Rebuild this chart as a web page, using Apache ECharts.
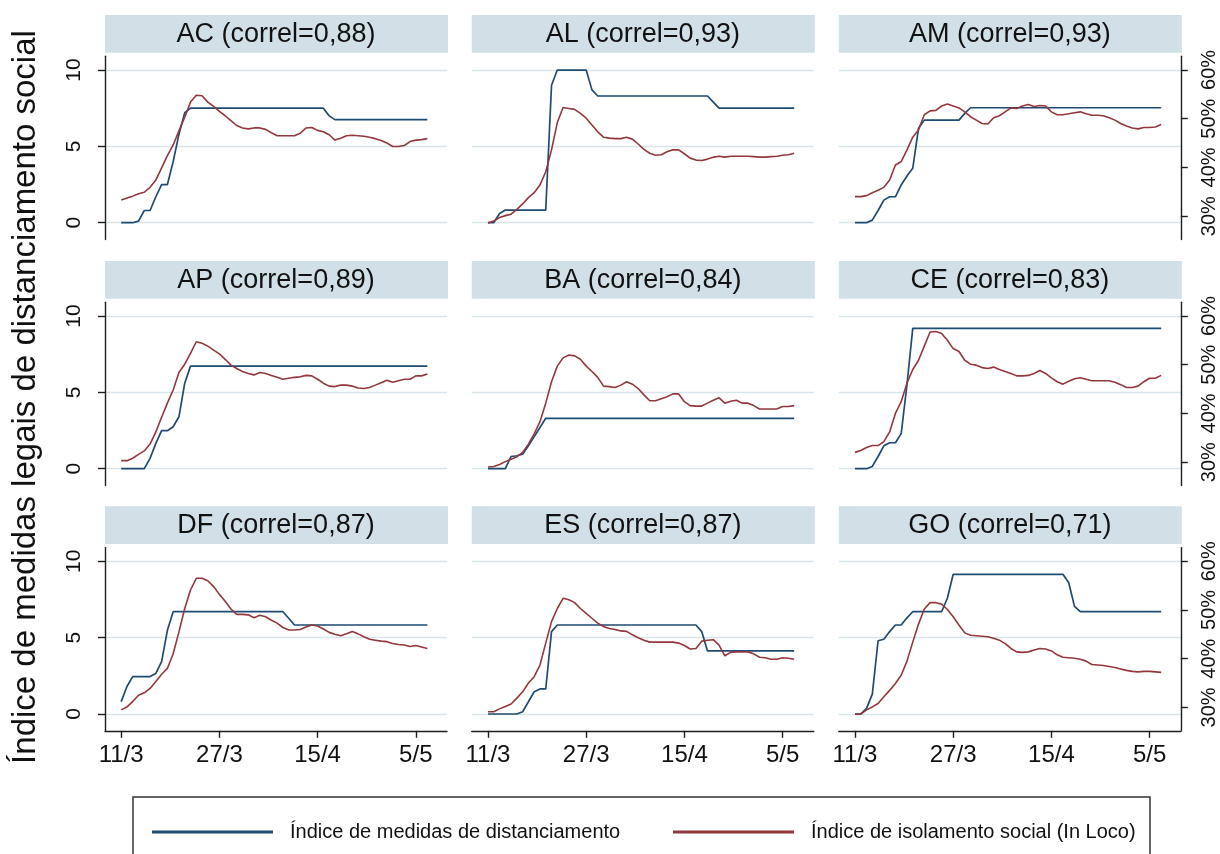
<!DOCTYPE html>
<html><head><meta charset="utf-8">
<script src="https://cdn.jsdelivr.net/npm/echarts@6/dist/echarts.min.js"></script>
<style>html,body{margin:0;padding:0;background:#fff}#c{width:1220px;height:854px}</style>
</head><body><div id="c"></div>
<script>
// ---------- data ----------
const states = ['AC','AL','AM','AP','BA','CE','DF','ES','GO'];
const correl = ['0,88','0,93','0,93','0,89','0,84','0,83','0,87','0,87','0,71'];
const xTickIdx = [0, 17, 34, 51];
const xTickLabels = ['11/3', '27/3', '15/4', '5/5'];
const leftTicks = [0, 5, 10];
const rightTicks = [30, 40, 50, 60];
const seriesNames = ['Índice de medidas de distanciamento', 'Índice de isolamento social (In Loco)'];
const yTitle = 'Índice de medidas legais de distanciamento social';

// Índice de medidas de distanciamento (0-10), one value per day
const blueAC = [0,0,0,0.1,0.8,0.8,1.7,2.5,2.5,4.0,5.8,7.2,7.5,7.5,7.5,7.5,7.5,7.5,7.5,7.5,7.5,7.5,7.5,7.5,7.5,7.5,7.5,7.5,7.5,7.5,7.5,7.5,7.5,7.5,7.5,7.5,7.0,6.75,6.75,6.75,6.75,6.75,6.75,6.75,6.75,6.75,6.75,6.75,6.75,6.75,6.75,6.75,6.75,6.75];
const blueAL = [0,0,0.6,0.83,0.83,0.83,0.83,0.83,0.83,0.83,0.83,9.0,10,10,10,10,10,10,8.7,8.3,8.3,8.3,8.3,8.3,8.3,8.3,8.3,8.3,8.3,8.3,8.3,8.3,8.3,8.3,8.3,8.3,8.3,8.3,8.3,7.9,7.5,7.5,7.5,7.5,7.5,7.5,7.5,7.5,7.5,7.5,7.5,7.5,7.5,7.5];
const blueAM = [0,0,0,0.17,0.8,1.48,1.7,1.7,2.47,3.06,3.56,6.18,6.72,6.72,6.72,6.72,6.72,6.72,6.72,7.16,7.53,7.53,7.53,7.53,7.53,7.53,7.53,7.53,7.53,7.53,7.53,7.53,7.53,7.53,7.53,7.53,7.53,7.53,7.53,7.53,7.53,7.53,7.53,7.53,7.53,7.53,7.53,7.53,7.53,7.53,7.53,7.53,7.53,7.53];
const blueAP = [0,0,0,0,0,0.68,1.66,2.49,2.49,2.75,3.4,5.6,6.72,6.72,6.72,6.72,6.72,6.72,6.72,6.72,6.72,6.72,6.72,6.72,6.72,6.72,6.72,6.72,6.72,6.72,6.72,6.72,6.72,6.72,6.72,6.72,6.72,6.72,6.72,6.72,6.72,6.72,6.72,6.72,6.72,6.72,6.72,6.72,6.72,6.72,6.72,6.72,6.72,6.72];
const blueBA = [0,0,0,0,0.8,0.85,0.95,1.5,2.1,2.7,3.3,3.3,3.3,3.3,3.3,3.3,3.3,3.3,3.3,3.3,3.3,3.3,3.3,3.3,3.3,3.3,3.3,3.3,3.3,3.3,3.3,3.3,3.3,3.3,3.3,3.3,3.3,3.3,3.3,3.3,3.3,3.3,3.3,3.3,3.3,3.3,3.3,3.3,3.3,3.3,3.3,3.3,3.3,3.3];
const blueCE = [0,0,0,0.15,0.8,1.5,1.7,1.7,2.3,5.5,9.19,9.19,9.19,9.19,9.19,9.19,9.19,9.19,9.19,9.19,9.19,9.19,9.19,9.19,9.19,9.19,9.19,9.19,9.19,9.19,9.19,9.19,9.19,9.19,9.19,9.19,9.19,9.19,9.19,9.19,9.19,9.19,9.19,9.19,9.19,9.19,9.19,9.19,9.19,9.19,9.19,9.19,9.19,9.19];
const blueDF = [0.81,1.8,2.45,2.45,2.45,2.45,2.66,3.43,5.48,6.7,6.7,6.7,6.7,6.7,6.7,6.7,6.7,6.7,6.7,6.7,6.7,6.7,6.7,6.7,6.7,6.7,6.7,6.7,6.7,6.27,5.83,5.83,5.83,5.83,5.83,5.83,5.83,5.83,5.83,5.83,5.83,5.83,5.83,5.83,5.83,5.83,5.83,5.83,5.83,5.83,5.83,5.83,5.83,5.83];
const blueES = [0,0,0,0,0,0,0.15,0.8,1.46,1.64,1.64,5.4,5.83,5.83,5.83,5.83,5.83,5.83,5.83,5.83,5.83,5.83,5.83,5.83,5.83,5.83,5.83,5.83,5.83,5.83,5.83,5.83,5.83,5.83,5.83,5.83,5.83,5.4,4.13,4.13,4.13,4.13,4.13,4.13,4.13,4.13,4.13,4.13,4.13,4.13,4.13,4.13,4.13,4.13];
const blueGO = [0,0,0.37,1.3,4.8,4.9,5.4,5.83,5.83,6.3,6.7,6.7,6.7,6.7,6.7,6.7,7.6,9.15,9.15,9.15,9.15,9.15,9.15,9.15,9.15,9.15,9.15,9.15,9.15,9.15,9.15,9.15,9.15,9.15,9.15,9.15,9.15,8.6,7.05,6.7,6.7,6.7,6.7,6.7,6.7,6.7,6.7,6.7,6.7,6.7,6.7,6.7,6.7,6.7];

// Índice de isolamento social (In Loco), percent
const redAC = [33.3,33.7,34.1,34.6,34.9,35.9,37.4,39.9,42.4,44.6,47.5,50.3,53.4,54.8,54.7,53.4,52.5,51.5,50.6,49.6,48.6,48.1,47.9,48.1,48.1,47.8,47.1,46.5,46.5,46.5,46.5,47.0,48.1,48.2,47.6,47.3,46.7,45.6,46.0,46.5,46.6,46.5,46.4,46.2,45.9,45.5,45.0,44.3,44.3,44.5,45.3,45.6,45.7,45.9];
const redAL = [28.6,29.0,29.7,30.1,30.4,31.4,32.5,33.8,34.8,36.4,39.1,43.6,49.2,52.3,52.1,51.9,51.1,50.1,48.7,47.3,46.2,46.0,45.9,45.9,46.2,45.8,44.8,43.7,42.9,42.5,42.6,43.2,43.6,43.6,42.8,41.9,41.5,41.4,41.7,42.1,42.3,42.1,42.3,42.3,42.3,42.3,42.2,42.1,42.1,42.2,42.3,42.5,42.6,42.9];
const redAM = [34.0,34.0,34.2,34.8,35.3,35.9,37.4,40.5,41.2,43.6,46.2,47.7,50.8,51.6,51.7,52.6,53.0,52.6,52.2,51.4,50.4,49.7,49.0,48.9,50.2,50.6,51.4,52.2,52.1,52.6,52.9,52.5,52.7,52.6,51.4,50.8,50.8,51.0,51.2,51.4,51.0,50.7,50.7,50.6,50.2,49.7,49.0,48.5,48.1,47.9,48.2,48.2,48.3,48.8];
const redAP = [30.3,30.3,30.8,31.6,32.3,33.7,36.2,39.2,42.1,44.8,48.4,50.1,52.3,54.7,54.4,53.8,53.0,52.2,51.1,49.9,49.2,48.6,48.2,47.9,48.4,48.2,47.8,47.4,47.0,47.2,47.4,47.5,47.8,47.7,47.0,46.2,45.6,45.5,45.8,45.8,45.6,45.2,45.1,45.3,45.8,46.3,46.8,46.4,46.7,47.0,47.0,47.7,47.7,48.1];
const redBA = [29.0,29.1,29.5,30.1,30.6,31.1,32.0,33.7,35.8,38.3,42.1,46.5,49.7,51.4,52.0,51.8,51.1,49.7,48.6,47.4,45.6,45.5,45.3,45.8,46.5,46.0,45.1,43.8,42.6,42.6,43.0,43.4,44.0,44.0,42.4,41.6,41.5,41.5,42.1,42.7,43.2,42.1,42.5,42.7,42.1,42.1,41.6,40.9,40.9,40.9,40.9,41.4,41.4,41.6];
const redCE = [32.0,32.4,33.0,33.4,33.4,34.2,36.2,40.0,42.4,46.2,49.0,50.9,53.8,56.7,56.8,56.4,55.0,53.3,52.7,50.9,50.1,49.9,49.4,49.2,49.5,49.0,48.6,48.2,47.7,47.7,47.8,48.2,48.8,48.2,47.3,46.5,46.0,46.6,47.1,47.3,47.0,46.7,46.7,46.7,46.7,46.4,45.9,45.3,45.3,45.6,46.5,47.2,47.2,47.8];
const redDF = [29.5,30.1,31.2,32.5,33.0,33.9,35.3,36.8,38.0,41.0,45.5,50.3,54.1,56.5,56.5,56.0,54.8,53.2,51.8,50.2,49.1,49.1,49.0,48.4,48.9,48.6,47.9,47.3,46.4,45.9,45.9,46.0,46.5,46.9,46.7,46.1,45.4,45.0,44.7,45.1,45.6,45.1,44.5,44.0,43.8,43.6,43.5,43.1,42.9,42.8,42.5,42.7,42.4,42.1];
const redES = [29.1,29.1,29.7,30.2,30.7,31.9,33.2,35.0,36.3,38.7,43.2,47.6,50.3,52.4,52.1,51.5,50.3,49.3,48.3,47.3,46.6,46.2,46.0,45.7,45.6,44.9,44.3,43.8,43.4,43.4,43.4,43.4,43.4,43.2,42.7,42.0,42.1,43.6,43.8,43.9,42.8,40.6,41.3,41.4,41.4,41.4,41.0,40.3,40.2,39.9,39.9,40.2,40.1,39.9];
const redGO = [28.6,28.6,29.5,30.1,30.8,32.2,33.5,34.9,36.6,39.5,43.4,47.1,50.2,51.5,51.5,51.2,50.1,48.6,46.9,45.3,44.8,44.7,44.6,44.5,44.2,43.8,43.1,42.1,41.4,41.3,41.4,41.8,42.1,42.0,41.6,40.8,40.3,40.2,40.1,39.9,39.5,38.8,38.7,38.6,38.4,38.2,37.9,37.6,37.4,37.3,37.4,37.4,37.3,37.2];

const blueData = [blueAC, blueAL, blueAM, blueAP, blueBA, blueCE, blueDF, blueES, blueGO];
const redData  = [redAC, redAL, redAM, redAP, redBA, redCE, redDF, redES, redGO];

// ---------- layout / style ----------
const FONT = "'Liberation Sans', Arial, sans-serif";
const BLUE = '#1f4b72', RED = '#93373e';
const colLeft = [105, 471.8, 838.8];
const rowTop = [56.3, 302.3, 547.6];
const gridW = 342, gridH = 183.2;
const axisCol = '#1e1e1e';

const grid = [], xAxis = [], yAxis = [], series = [], graphic = [];
states.forEach((st, k) => {
  const r = Math.floor(k / 3), c = k % 3;
  grid.push({left: colLeft[c], top: rowTop[r], width: gridW, height: gridH, containLabel: false, outerBoundsMode: 'none'});
  xAxis.push({
    gridIndex: k, type: 'value', min: -2.8, max: 56.4,
    axisLine: {show: r === 2, onZero: false, lineStyle: {color: axisCol, width: 1.4}},
    axisTick: {show: r === 2, length: 7, customValues: xTickIdx, lineStyle: {color: axisCol, width: 1.4}},
    axisLabel: {show: r === 2, customValues: xTickIdx, margin: 13, fontSize: 24, fontFamily: FONT, color: '#111',
      formatter: v => xTickLabels[xTickIdx.indexOf(v)]},
    splitLine: {show: false}
  });
  yAxis.push({
    gridIndex: k, type: 'value', min: -1.1, max: 10.9, position: 'left',
    axisLine: {show: c === 0, onZero: false, lineStyle: {color: axisCol, width: 1.4}},
    axisTick: {show: c === 0, length: 7, customValues: leftTicks, lineStyle: {color: axisCol, width: 1.4}},
    axisLabel: {show: c === 0, customValues: leftTicks, rotate: 90, margin: 20, fontSize: 21, fontFamily: FONT, color: '#111'},
    splitLine: {show: true, lineStyle: {color: '#d8e6eb', width: 1.3}}
  });
  yAxis.push({
    gridIndex: k, type: 'value', min: 25.2, max: 62.8, position: 'right',
    axisLine: {show: c === 2, onZero: false, lineStyle: {color: axisCol, width: 1.4}},
    axisTick: {show: c === 2, length: 7, customValues: rightTicks, lineStyle: {color: axisCol, width: 1.4}},
    axisLabel: {show: c === 2, customValues: rightTicks, rotate: 90, margin: 19, fontSize: 20, fontFamily: FONT, color: '#111',
      formatter: v => v + '%'},
    splitLine: {show: false}
  });
  series.push({
    name: seriesNames[0], type: 'line', xAxisIndex: k, yAxisIndex: 2 * k, symbol: 'none', z: 3,
    lineStyle: {color: BLUE, width: 1.7}, itemStyle: {color: BLUE},
    data: blueData[k].map((v, i) => [i, v])
  });
  series.push({
    name: seriesNames[1], type: 'line', xAxisIndex: k, yAxisIndex: 2 * k + 1, symbol: 'none', z: 4,
    lineStyle: {color: RED, width: 1.6}, itemStyle: {color: RED},
    data: redData[k].map((v, i) => [i, v])
  });
  // strip header
  const sy = rowTop[r] - 41.3;
  graphic.push({type: 'rect', silent: true, z: 0, shape: {x: colLeft[c], y: sy, width: gridW + 1, height: 37.7},
    style: {fill: '#d1e0e6'}});
  graphic.push({type: 'text', silent: true, z: 1, x: colLeft[c] + gridW / 2, y: sy + 19.5,
    style: {text: st + ' (correl=' + correl[k] + ')', fill: '#111', fontSize: 27, fontFamily: FONT,
      align: 'center', verticalAlign: 'middle', textAlign: 'center', textVerticalAlign: 'middle'}});
});

// overall y title
graphic.push({type: 'text', silent: true, x: 26, y: 397, rotation: Math.PI / 2,
  style: {text: yTitle, fill: '#111', fontSize: 33, fontFamily: FONT,
    align: 'center', verticalAlign: 'middle', textAlign: 'center', textVerticalAlign: 'middle'}});
// legend box
graphic.push({type: 'rect', silent: true, shape: {x: 133, y: 797, width: 1017, height: 80},
  style: {fill: 'none', stroke: '#333', lineWidth: 1.5}});

const legendText = {fontFamily: FONT, fontSize: 20, color: '#111', padding: [0, 0, 0, 12]};
const chart = echarts.init(document.getElementById('c'), null, {renderer: 'canvas'});
chart.setOption({
  animation: false,
  backgroundColor: '#fff',
  grid, xAxis, yAxis, series, graphic,
  legend: [
    {left: 147, top: 817, icon: 'rect', itemWidth: 121, itemHeight: 3, data: [seriesNames[0]], textStyle: legendText},
    {left: 668, top: 817, icon: 'rect', itemWidth: 121, itemHeight: 3, data: [seriesNames[1]], textStyle: legendText}
  ]
});
</script>
</body></html>
